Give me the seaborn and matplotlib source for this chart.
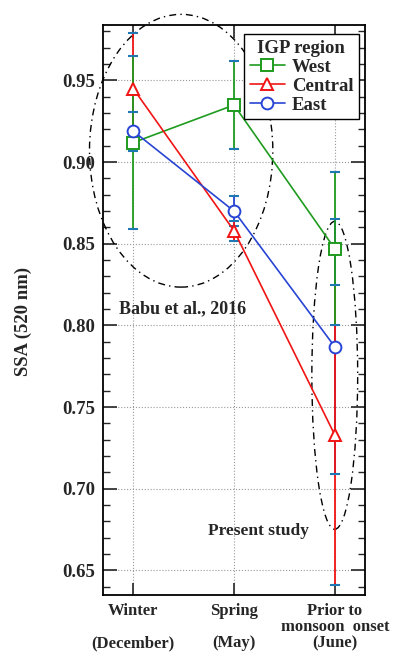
import matplotlib
matplotlib.use("Agg")
import matplotlib.pyplot as plt
from matplotlib.patches import Ellipse
from matplotlib.ticker import MultipleLocator
import seaborn as sns
import pandas as pd
import numpy as np

# ---- data ----
seasons = ["Winter\n\n(December)", "Spring\n\n(May)", "Prior to\nmonsoon  onset\n(June)"]
regions = ["West", "Central", "East"]
west_ssa = [0.912, 0.935, 0.847]
west_err = [0.053, 0.027, 0.047]
central_ssa = [0.945, 0.858, 0.733]
central_err = [0.034, 0.006, 0.092]
east_ssa = [0.919, 0.870, 0.787]
east_err = [0.012, 0.009, 0.078]
yticks = [0.65, 0.70, 0.75, 0.80, 0.85, 0.90, 0.95]
colors = {"West": "#1f9b1f", "Central": "#f01414", "East": "#2844d4"}
markers = {"West": "s", "Central": "^", "East": "o"}

sns.set_style("white")
plt.rcParams["font.family"] = ["Liberation Serif", "DejaVu Serif"]
plt.rcParams["font.weight"] = "bold"

vals = {"West": (west_ssa, west_err), "Central": (central_ssa, central_err), "East": (east_ssa, east_err)}
rows = []
for r in regions:
    for i, (v, e) in enumerate(zip(*vals[r])):
        rows.append({"season": i, "region": r, "ssa": v, "err": e})
df = pd.DataFrame(rows)

fig = plt.figure(figsize=(3.95, 6.57), dpi=100)
ax = fig.add_axes([0.261, 0.0944, 0.663, 0.8676])

# error bars (drawn under markers)
for r, z in [("East", 2.0), ("Central", 2.1), ("West", 2.2)]:
    d = df[df.region == r]
    eb = ax.errorbar(d.season, d.ssa, yerr=d.err, fmt="none", ecolor=colors[r],
                     elinewidth=1.3, capsize=3.8, capthick=1.5, zorder=z)
    for cl in eb[1]:
        cl.set_zorder(2.5)

sns.lineplot(data=df, x="season", y="ssa", hue="region", style="region",
             hue_order=regions, style_order=regions, palette=colors,
             markers=markers, dashes=False, linewidth=1.2, markersize=8.5,
             markeredgewidth=1.4, ax=ax, zorder=3)
for line in ax.lines:
    line.set_markerfacecolor("white")
    line.set_markeredgecolor(line.get_color())

# ellipses
e1 = Ellipse((0.475, 0.907), 1.82, 0.167, fill=False, edgecolor="black",
             linestyle=(0, (5, 3, 1, 3)), linewidth=1.0, clip_on=False, zorder=1.5)
e2 = Ellipse((2.0, 0.7695), 0.455, 0.1885, fill=False, edgecolor="black",
             linestyle=(0, (5, 3, 1, 3)), linewidth=1.0, clip_on=False, zorder=1.5)
ax.add_patch(e1)
ax.add_patch(e2)

ax.text(0.485, 0.81, "Babu et al., 2016", ha="center", va="center", fontsize=13, fontweight="bold")
ax.text(1.24, 0.674, "Present study", ha="center", va="center", fontsize=12.5, fontweight="bold")

ax.set_xlim(-0.3, 2.3)
ax.set_xticks([0, 1, 2])
ax.set_xticklabels(seasons, fontsize=12, fontweight="bold", linespacing=1.0)
ax.set_yticks(yticks)
ax.set_yticklabels([f"{t:.2f}" for t in yticks], fontsize=13.5, fontweight="bold")
ax.yaxis.set_minor_locator(MultipleLocator(0.01))
ax.set_ylim(0.635, 0.984)
ax.set_xlabel("")
ax.set_ylabel("SSA (520 nm)", fontsize=13.5, fontweight="bold")
ax.yaxis.set_label_coords(-0.27, 0.48)

ax.grid(True, which="major", linestyle=":", color="#999999", linewidth=0.8)
ax.tick_params(axis="y", which="major", direction="in", length=10, width=1.2, left=True, right=True, pad=6)
ax.tick_params(axis="y", which="minor", direction="in", length=5, width=1.0, left=True, right=True)
ax.tick_params(axis="x", which="major", direction="in", length=9, width=1.2, top=True, bottom=True, pad=6)
for s in ax.spines.values():
    s.set_color("black")
    s.set_linewidth(1.3)

h, l = ax.get_legend_handles_labels()
leg = ax.legend(h, l, title="IGP region", loc="upper right", bbox_to_anchor=(0.977, 0.984),
                fancybox=False, framealpha=1, edgecolor="black",
                prop={"weight": "bold", "size": 13.5},
                title_fontproperties={"weight": "bold", "size": 13.5},
                handlelength=1.9, borderpad=0.3, labelspacing=0.1, handletextpad=0.35,
                borderaxespad=0.0)
leg.get_frame().set_linewidth(1.0)
for lh in leg.legend_handles:
    lh.set_markerfacecolor("white")
    lh.set_markeredgecolor(lh.get_color())

fig.savefig("out.png", dpi=100)
